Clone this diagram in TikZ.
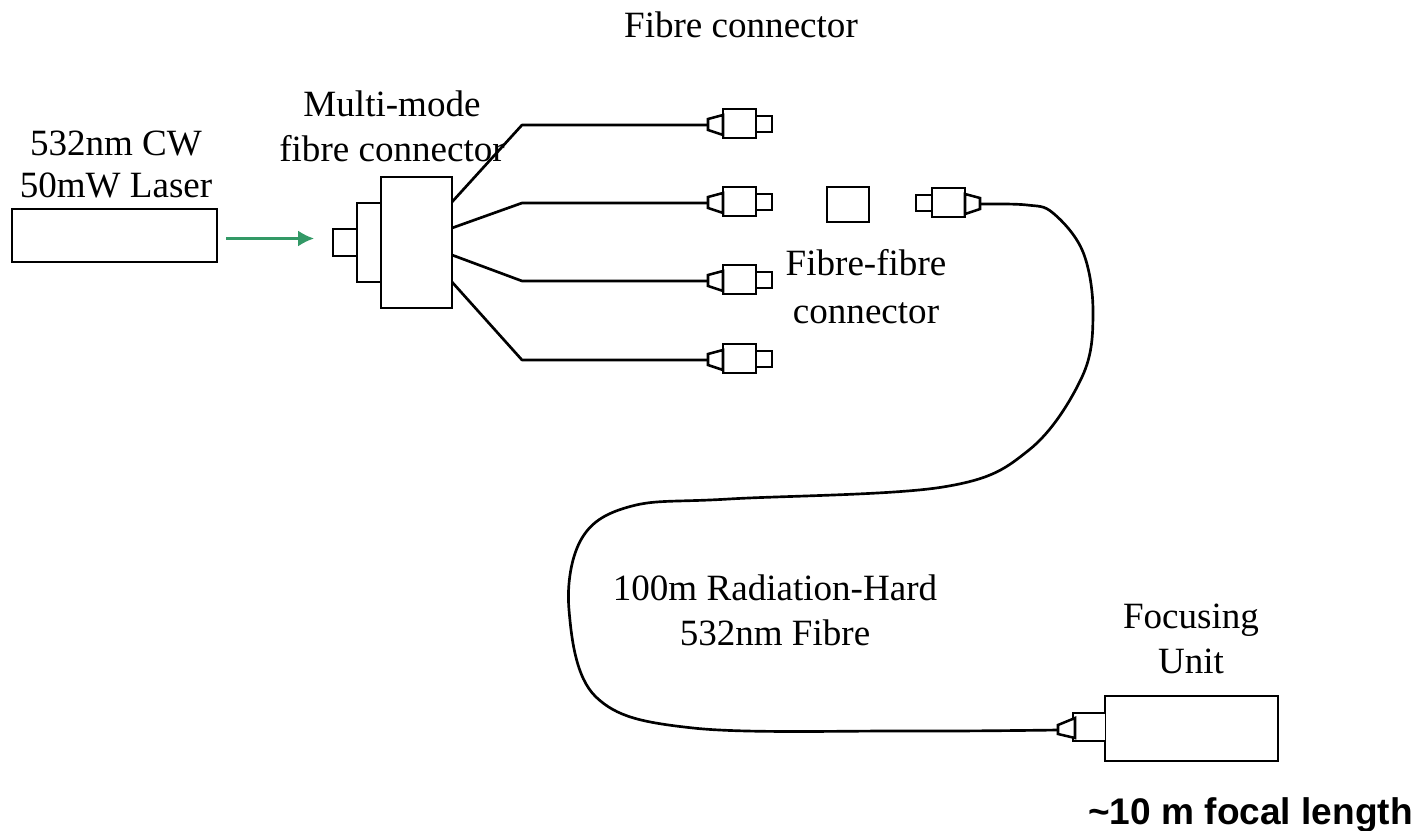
\documentclass[tikz,border=0pt]{standalone}
\usepackage{fontspec}
\usetikzlibrary{arrows.meta}
\setmainfont{Liberation Serif}
\newfontfamily\arialfont{Liberation Sans}
\definecolor{beam}{RGB}{51,153,102}
\newcommand{\bx}[5]{\node[boxn, minimum width={(#4-#2)*0.75pt}, minimum height={(#5-#3)*0.75pt}] (#1) at ({(#2+#4)/2},{(#3+#5)/2}) {};}
\tikzset{
  boxn/.style={draw=black, fill=white, line width=1.9pt, inner sep=0pt, outer sep=0pt},
  fibre/.style={draw=black, line width=2pt, line join=round},
  cone/.style={draw=black, fill=white, line width=1.9pt, line join=miter},
  lbl/.style={font=\fontsize{27.8}{34}\selectfont, align=center, inner sep=0pt},
  plug/.pic={
    \coordinate (-tip) at (0,0);
    \bx{-small}{48}{-9}{64}{7}
    \bx{-body}{15}{-16}{48}{13}
    \draw[cone] (0,-6) -- (15,-10) -- (15,10) -- (0,5) -- cycle;
  }
}
\begin{document}
\begin{tikzpicture}[x=0.75pt,y=-0.75pt]
\useasboundingbox (0,0) rectangle (1417,831);
\fill[white] (0,0) rectangle (1417,831);
% laser
\bx{laser}{12}{209}{217}{262}
% source connector
\bx{mmsmall}{333}{229}{357}{256}
\bx{mmmid}{357}{203}{381}{282}
\bx{mmbig}{381}{177}{452}{308}
\coordinate (arrowend) at (314,238.5);
\coordinate (arrowstart) at (226,238.5);
\draw[-{Latex[length=12pt,width=12pt]}, color=beam, line width=1.6pt] (arrowstart) -- (arrowend);
% plugs
\pic (c1) at (708,125) {plug};
\pic (c2) at (708,203) {plug};
\pic (c3) at (708,281) {plug};
\pic (c4) at (708,360) {plug};
\bx{ff}{827}{187}{869}{222}
\pic[xscale=-1] (c5) at (980,204) {plug};
% labels
\node[lbl] (tfc) at (741,25) {Fibre connector};
\node[lbl] (tlaser) at (116,164.5) {532nm CW\\[-2pt]50mW Laser};
\node[lbl] (tmm) at (392,126) {Multi-mode\\fibre connector};
\node[lbl] (tff) at (866,286.5) {Fibre-fibre\\[1.5pt]connector};
\node[lbl] (trad) at (775,610) {100m Radiation-Hard\\532nm Fibre};
\node[lbl] (tfoc) at (1191,639) {Focusing\\Unit};
\node[font=\arialfont\bfseries\fontsize{27.8}{34}\selectfont, inner sep=0pt] (tfl) at (1250.5,814.5) {\textasciitilde 10 m focal length};
% fibres
\coordinate (s1) at (452,202);
\coordinate (s2) at (452,228);
\coordinate (s3) at (452,255);
\coordinate (s4) at (452,282);
\coordinate (b1) at (522,125);
\coordinate (b2) at (522,203);
\coordinate (b3) at (522,281);
\coordinate (b4) at (522,360);
\draw[fibre] (s1) -- (b1) -- (c1-tip);
\draw[fibre] (s2) -- (b2) -- (c2-tip);
\draw[fibre] (s3) -- (b3) -- (c3-tip);
\draw[fibre] (s4) -- (b4) -- (c4-tip);
% focusing unit
\bx{focus}{1105}{696}{1278}{761}
\draw[boxn] (1105,713) -- (1073,713) -- (1073,741) -- (1105,741);
\draw[cone] (1058,725) -- (1075,718) -- (1075,738) -- (1058,734) -- cycle;
\coordinate (ftip) at (1058,730);
% long fibre
\draw[fibre] plot[smooth,tension=0.6] coordinates {(c5-tip) (1027,205) (1053,213) (1083,252) (1093,313) (1082,377) (1029,450) (943,487) (729,499) (632,506) (582,538) (569,610) (596,697) (693,728) (907,731) (ftip)};
\end{tikzpicture}
\end{document}
